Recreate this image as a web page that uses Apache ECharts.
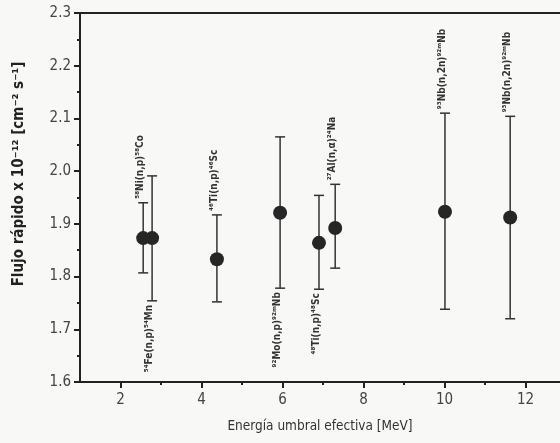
<!DOCTYPE html>
<html><head><meta charset="utf-8">
<script src="https://cdn.jsdelivr.net/npm/echarts@6/dist/echarts.min.js"></script>
<style>html,body{margin:0;padding:0;background:#f8f8f7;}#c{width:560px;height:443px;}</style>
</head><body><div id="c"></div>
<script>
var energies = [2.56, 2.78, 4.38, 5.94, 6.90, 7.30, 10.01, 11.62];
var flux     = [1.873, 1.873, 1.833, 1.921, 1.864, 1.892, 1.923, 1.912];
var lower    = [1.807, 1.754, 1.752, 1.778, 1.776, 1.816, 1.738, 1.720];
var upper    = [1.940, 1.991, 1.917, 2.065, 1.954, 1.975, 2.110, 2.104];
var reactions = ['⁵⁸Ni(n,p)⁵⁸Co', '⁵⁴Fe(n,p)⁵⁴Mn', '⁴⁶Ti(n,p)⁴⁶Sc', '⁹²Mo(n,p)⁹²ᵐNb',
                 '⁴⁸Ti(n,p)⁴⁸Sc', '²⁷Al(n,α)²⁴Na', '⁹³Nb(n,2n)⁹²ᵐNb', '⁹³Nb(n,2n)⁹²ᵐNb'];
var labelSide = ['top', 'bottom', 'top', 'bottom', 'bottom', 'top', 'top', 'top'];
var xMajorTicks = [2, 4, 6, 8, 10, 12];
var xMinorTicks = [3, 5, 7, 9, 11];
var yTicks = [1.6, 1.7, 1.8, 1.9, 2.0, 2.1, 2.2, 2.3];

var FONT = '"Liberation Sans Narrow", "DejaVu Sans Condensed", "Noto Sans", sans-serif';
var ink = '#222';
var rows = energies.map(function(e, i){ return [e, flux[i], lower[i], upper[i], i]; });

var chart = echarts.init(document.getElementById('c'));
chart.setOption({
  backgroundColor: '#f8f8f7',
  animation: false,
  grid: { left: 80, top: 13, right: 0, bottom: 61, show: false },
  xAxis: [{
    type: 'value', min: 1, max: 12.85,
    axisLine: { show: true, lineStyle: { color: ink, width: 2 } },
    axisTick: { show: true, inside: false, length: 6, lineStyle: { color: ink, width: 2 }, customValues: xMajorTicks },
    axisLabel: { customValues: xMajorTicks, color: '#444', fontSize: 15, fontFamily: FONT, margin: 11 },
    splitLine: { show: false },
    name: 'Energía umbral efectiva [MeV]', nameLocation: 'middle', nameGap: 37,
    nameTextStyle: { color: '#333', fontSize: 13.5, fontFamily: FONT }
  }, {
    type: 'value', min: 1, max: 12.85, position: 'bottom',
    axisLine: { show: false },
    axisTick: { show: true, length: 3, lineStyle: { color: ink, width: 2 }, customValues: xMinorTicks },
    axisLabel: { show: false }, splitLine: { show: false }
  }, {
    type: 'value', min: 1, max: 12.85, position: 'top',
    axisLine: { show: true, lineStyle: { color: ink, width: 2 } },
    axisTick: { show: false }, axisLabel: { show: false }, splitLine: { show: false }
  }],
  yAxis: {
    type: 'value', min: 1.6, max: 2.3, interval: 0.1,
    axisLine: { show: true, lineStyle: { color: ink, width: 2 } },
    axisTick: { show: true, length: 6, lineStyle: { color: ink, width: 2 }, customValues: yTicks },
    minorTick: { show: true, splitNumber: 2, length: 3, lineStyle: { color: ink, width: 2 } },
    axisLabel: { customValues: yTicks, color: '#444', fontSize: 15, fontFamily: FONT, margin: 9,
      formatter: function(v){ return v.toFixed(1); } },
    splitLine: { show: false }
  },
  graphic: [{
    type: 'text', x: 19, y: 174, rotation: Math.PI / 2,
    style: { text: 'Flujo rápido x 10⁻¹² [cm⁻² s⁻¹]', fill: '#222', font: 'bold 15px ' + FONT,
             align: 'center', verticalAlign: 'middle' }
  }],
  series: [{
    type: 'custom',
    data: rows,
    z: 2,
    renderItem: function(params, api){
      var x = api.value(0), lo = api.value(2), hi = api.value(3), i = api.value(4);
      var pLo = api.coord([x, lo]), pHi = api.coord([x, hi]);
      var cap = 5;
      var side = labelSide[i];
      var children = [
        { type: 'line', shape: { x1: pLo[0], y1: pLo[1], x2: pHi[0], y2: pHi[1] }, style: { stroke: '#333', lineWidth: 1.5 } },
        { type: 'line', shape: { x1: pLo[0]-cap, y1: pLo[1], x2: pLo[0]+cap, y2: pLo[1] }, style: { stroke: '#333', lineWidth: 1.5 } },
        { type: 'line', shape: { x1: pHi[0]-cap, y1: pHi[1], x2: pHi[0]+cap, y2: pHi[1] }, style: { stroke: '#333', lineWidth: 1.5 } }
      ];
      var ax = pHi[0] - 3;
      var ay = side === 'top' ? pHi[1] - 4 : pLo[1] + 4;
      children.push({
        type: 'text', x: ax, y: ay, rotation: Math.PI / 2,
        style: { text: reactions[i], fill: '#333', font: 'bold 10px ' + FONT,
                 align: side === 'top' ? 'left' : 'right', verticalAlign: 'middle' }
      });
      return { type: 'group', children: children };
    }
  }, {
    type: 'scatter',
    data: rows.map(function(r){ return [r[0], r[1]]; }),
    symbol: 'circle', symbolSize: 14,
    itemStyle: { color: '#262626', opacity: 1 },
    z: 3
  }]
});
</script></body></html>
